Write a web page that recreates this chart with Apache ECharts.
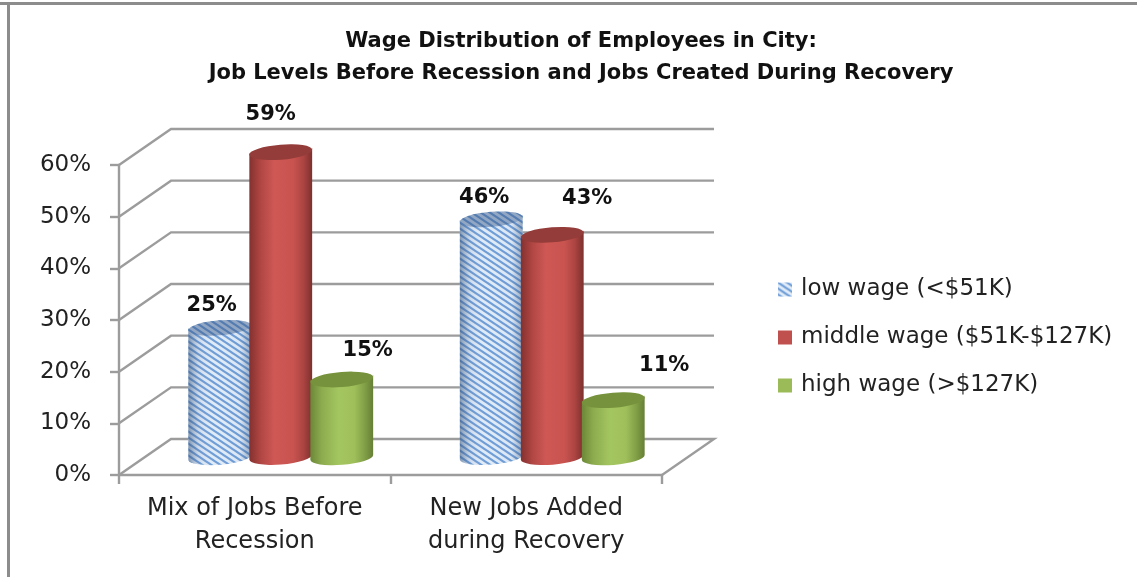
<!DOCTYPE html>
<html>
<head>
<meta charset="utf-8">
<style>
html, body {margin: 0; padding: 0; background: #fff;}
#display {width: 1137px; height: 577px;}
</style>
<script src="https://cdn.jsdelivr.net/npm/echarts@6/dist/echarts.min.js"></script>
</head>
<body>
<div id="display"></div>
<script>
var categories = ["Mix of Jobs Before\nRecession", "New Jobs Added\nduring Recovery"];
var lowWage = [25, 46];
var middleWage = [59, 43];
var highWage = [15, 11];
var yTicks = [0, 10, 20, 30, 40, 50, 60];
var chartTitle = "Wage Distribution of Employees in City:\nJob Levels Before Recession and Jobs Created During Recovery";

// the labels were dragged by hand in the original, so each one has its own nudge
var labelNudge = [
    [[-8, -22], [-7, -22]],
    [[-10, -38], [35, -36]],
    [[26, -29], [51, -35]]
];

var FONT = "DejaVu Sans";
var GRID_COLOR = "#9c9c9c";
var DEPTH_X = 52, DEPTH_Y = -36;
var BAR_STEP = 61, BAR_R = 31.5, BAR_RY = 7.5, BAR_TILT = 2.5, BASE_DROP = 3;

function hatch() {
    var c = document.createElement("canvas");
    c.width = 9;
    c.height = 6;
    var g = c.getContext("2d");
    g.fillStyle = "#e0ebf8";
    g.fillRect(0, 0, 9, 6);
    g.strokeStyle = "#6f9dd6";
    g.lineWidth = 2.2;
    for (var k = -9; k <= 9; k += 9) {
        g.beginPath();
        g.moveTo(k - 3, -2);
        g.lineTo(k + 12, 8);
        g.stroke();
    }
    return {image: c, repeat: "repeat"};
}
var hatchFill = hatch();

function sideGradient(stops) {
    return {
        type: "linear", x: 0, y: 0, x2: 1, y2: 0,
        colorStops: stops.map(function (s) { return {offset: s[0], color: s[1]}; })
    };
}

var looks = [
    {
        legend: hatchFill, body: hatchFill,
        shade: sideGradient([[0, "rgba(50,80,120,0.55)"], [0.16, "rgba(70,100,140,0.12)"], [0.4, "rgba(255,255,255,0)"], [0.82, "rgba(60,90,130,0.03)"], [1, "rgba(50,80,120,0.45)"]]),
        top: hatchFill, topShade: "rgba(50,85,130,0.45)"
    },
    {
        legend: "#c0504d",
        body: sideGradient([[0, "#83312f"], [0.18, "#b04643"], [0.4, "#cf5855"], [0.7, "#c8534f"], [0.86, "#ab4442"], [1, "#7c302d"]]),
        top: "#943c39"
    },
    {
        legend: "#9bbb59",
        body: sideGradient([[0, "#6c8738"], [0.18, "#8cab4e"], [0.45, "#a4c660"], [0.7, "#9fbf5b"], [0.86, "#82a047"], [1, "#667f35"]]),
        top: "#76923c"
    }
];

function cylinder(seriesIdx) {
    return function (params, api) {
        var cat = api.value(0);
        var val = api.value(1);
        var look = looks[seriesIdx];
        var topPt = api.coord([cat, val]);
        var basePt = api.coord([cat, 0]);
        var cx = topPt[0] + DEPTH_X / 2 + (seriesIdx - 1) * BAR_STEP;
        var yt = topPt[1] + DEPTH_Y / 2;
        var yb = basePt[1] + DEPTH_Y / 2 + BASE_DROP;
        var l = cx - BAR_R, r = cx + BAR_R, t = BAR_TILT;
        var arc = "A" + BAR_R + " " + BAR_RY + " -4.6 0 ";

        var bodyPath = "M" + l + " " + (yt + t) + "L" + l + " " + (yb + t) + arc + "0 " + r + " " + (yb - t) +
            "L" + r + " " + (yt - t) + arc + "1 " + l + " " + (yt + t) + "Z";
        var topPath = "M" + l + " " + (yt + t) + arc + "1 " + r + " " + (yt - t) + arc + "1 " + l + " " + (yt + t) + "Z";
        var box = {x: l, y: yt - BAR_RY, width: r - l, height: yb - yt + 2 * BAR_RY};

        var kids = [{type: "path", shape: {pathData: bodyPath, layout: "center", x: box.x, y: box.y, width: box.width, height: box.height},
            style: {fill: look.body}}];
        if (look.shade) {
            kids.push({type: "path", shape: {pathData: bodyPath, layout: "center", x: box.x, y: box.y, width: box.width, height: box.height},
                style: {fill: look.shade}});
        }
        var topBox = {x: l, y: yt - BAR_RY, width: r - l, height: 2 * BAR_RY};
        kids.push({type: "path", shape: {pathData: topPath, layout: "center", x: topBox.x, y: topBox.y, width: topBox.width, height: topBox.height},
            style: {fill: look.top}});
        if (look.topShade) {
            kids.push({type: "path", shape: {pathData: topPath, layout: "center", x: topBox.x, y: topBox.y, width: topBox.width, height: topBox.height},
                style: {fill: look.topShade}});
        }
        var nudge = labelNudge[seriesIdx][cat];
        kids.push({
            type: "text", z2: 50,
            style: {
                text: val + "%", x: cx + nudge[0], y: yt + nudge[1],
                align: "center", verticalAlign: "middle",
                font: "bold 21px '" + FONT + "'", fill: "#111"
            }
        });
        return {type: "group", children: kids};
    };
}

function walls(params, api) {
    var val = api.value(1);
    var box = params.coordSys;
    var y = api.coord([0, val])[1];
    var pts = [[box.x, y], [box.x + DEPTH_X, y + DEPTH_Y], [box.x + box.width + DEPTH_X, y + DEPTH_Y]];
    if (val == 0) {
        pts.push([box.x + box.width, y]);
    }
    return {type: "polyline", shape: {points: pts}, style: {stroke: GRID_COLOR, lineWidth: 2.4, fill: null}};
}

function barSeries(name, values, idx) {
    return {
        name: name,
        type: "custom",
        renderItem: cylinder(idx),
        itemStyle: {color: looks[idx].legend},
        data: values.map(function (v, i) { return [i, v]; })
    };
}

var option = {
    animation: false,
    backgroundColor: "#fff",
    textStyle: {fontFamily: FONT},
    title: {
        text: chartTitle,
        left: 576, top: 21, textAlign: "center",
        textStyle: {fontFamily: FONT, fontWeight: "bold", fontSize: 21, lineHeight: 32, color: "#111"}
    },
    legend: {
        orient: "vertical",
        left: 778, top: 278, padding: 0,
        itemWidth: 14, itemHeight: 14, itemGap: 25, icon: "rect",
        textStyle: {fontFamily: FONT, fontSize: 23, color: "#222", padding: [0, 0, 0, 4]},
        data: ["low wage (<$51K)", "middle wage ($51K-$127K)", "high wage (>$127K)"]
    },
    grid: {left: 119, top: 165, width: 543, height: 310},
    xAxis: {
        type: "category",
        data: categories,
        axisLine: {lineStyle: {color: GRID_COLOR, width: 2.4}},
        axisTick: {show: true, interval: 0, length: 9, lineStyle: {color: GRID_COLOR, width: 2.4}},
        axisLabel: {interval: 0, margin: 17, fontFamily: FONT, fontSize: 24, lineHeight: 33, color: "#222"}
    },
    yAxis: {
        type: "value",
        min: 0, max: 60, interval: 10,
        splitLine: {show: false},
        axisLine: {show: true, lineStyle: {color: GRID_COLOR, width: 2.4}},
        axisTick: {show: true, length: 9, lineStyle: {color: GRID_COLOR, width: 2.4}},
        axisLabel: {margin: 28, formatter: "{value}%", fontFamily: FONT, fontSize: 23, color: "#222"}
    },
    graphic: [
        {type: "rect", shape: {x: 0, y: 2, width: 1137, height: 3}, style: {fill: "#8c8c8c"}},
        {type: "rect", shape: {x: 7, y: 2, width: 3, height: 575}, style: {fill: "#8c8c8c"}}
    ],
    series: [
        {
            type: "custom",
            renderItem: walls,
            silent: true,
            data: yTicks.map(function (v) { return [0, v]; })
        },
        barSeries("low wage (<$51K)", lowWage, 0),
        barSeries("middle wage ($51K-$127K)", middleWage, 1),
        barSeries("high wage (>$127K)", highWage, 2)
    ]
};

var myChart = echarts.init(document.getElementById("display"));
myChart.setOption(option);
</script>
</body>
</html>
